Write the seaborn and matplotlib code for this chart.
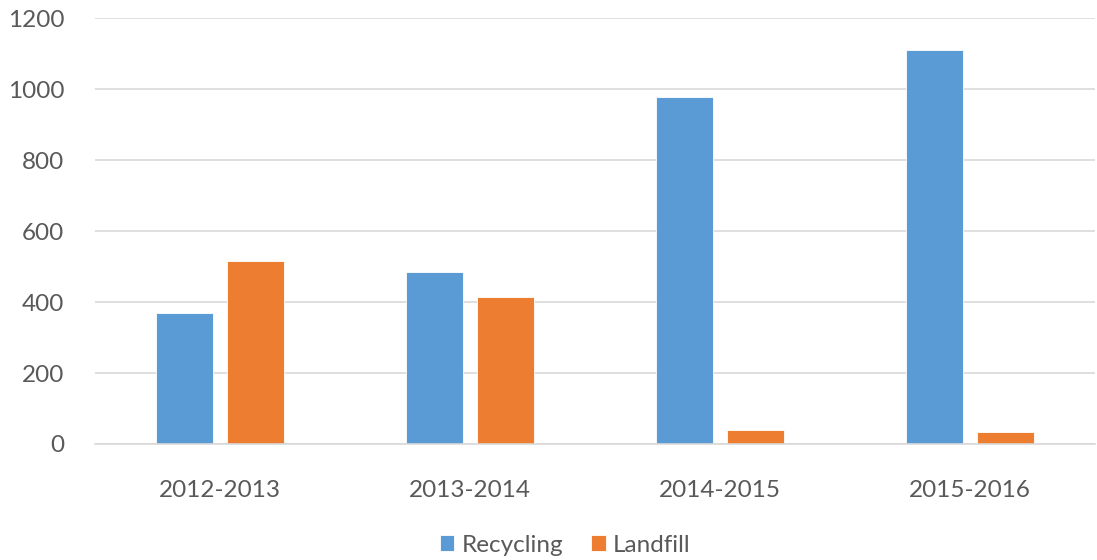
import matplotlib
matplotlib.use("Agg")
import matplotlib.pyplot as plt
import seaborn as sns
import pandas as pd

periods = ["2012-2013", "2013-2014", "2014-2015", "2015-2016"]
recycling = [370, 486, 977, 1110]
landfill = [517, 413, 39, 34]
series_names = ["Recycling", "Landfill"]
y_ticks = [0, 200, 400, 600, 800, 1000, 1200]

df = pd.DataFrame({
    "period": periods * 2,
    "series": [series_names[0]] * len(periods) + [series_names[1]] * len(periods),
    "value": recycling + landfill,
})

sns.set_theme(style="white")
plt.rcParams["font.family"] = ["Lato", "DejaVu Sans"]

text_color = "#595959"
fig = plt.figure(figsize=(10.97, 5.60), dpi=100)
ax = fig.add_axes([95 / 1097, 1 - 444 / 560, 1000 / 1097, (444 - 18.3) / 560])

sns.barplot(
    data=df, x="period", y="value", hue="series", ax=ax,
    palette=["#5B9BD5", "#ED7D31"], width=0.568, gap=0.211,
    edgecolor="white", linewidth=0.6, saturation=1, errorbar=None,
)

ax.set_ylim(0, 1200)
ax.set_xlim(-0.5, 3.5)
ax.set_yticks(y_ticks)
ax.set_yticklabels([str(t) for t in y_ticks])
ax.yaxis.grid(True, color="#D9D9D9", linewidth=1.2)
ax.set_axisbelow(True)
for s in ["top", "right", "left"]:
    ax.spines[s].set_visible(False)
ax.spines["bottom"].set_color("#D9D9D9")
ax.spines["bottom"].set_linewidth(1.2)
ax.set_xlabel("")
ax.set_ylabel("")
ax.tick_params(axis="both", length=0, labelsize=17.5, colors=text_color)
ax.tick_params(axis="x", pad=26)
ax.tick_params(axis="y", pad=22)

handles, labels = ax.get_legend_handles_labels()
ax.legend_.remove()
fig.legend(
    handles, labels, loc="center", bbox_to_anchor=(565 / 1097, 1 - 545 / 560),
    ncol=2, frameon=False, fontsize=17.5, handlelength=0.6, handleheight=0.6,
    handletextpad=0.3, columnspacing=1.15, labelcolor=text_color,
)

fig.savefig("out.png", dpi=100)
